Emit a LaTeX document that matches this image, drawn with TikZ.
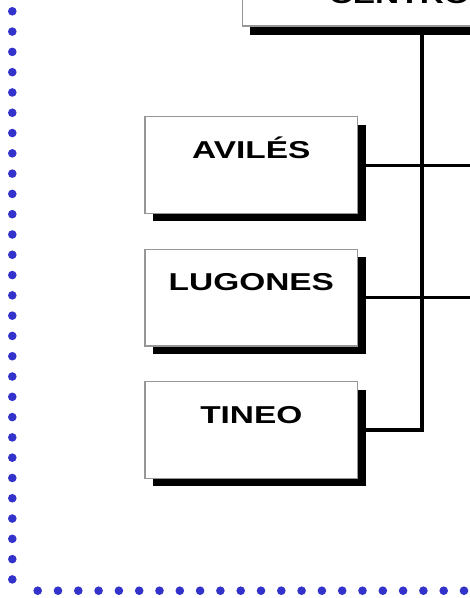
\documentclass[tikz,border=0pt]{standalone}
\usepackage{fontspec}
\usepackage{graphicx}
\setmainfont{Liberation Sans}
\definecolor{dotblue}{RGB}{51,51,204}
\definecolor{boxgray}{RGB}{150,150,150}
\newcommand{\boxlbl}[1]{\fontsize{24.4}{28}\selectfont\bfseries\scalebox{1.37}[1]{#1}}
\tikzset{
  orgbox/.style={draw=boxgray, line width=1.2pt, fill=white, rectangle,
    minimum width=212.7pt, minimum height=96.8pt, inner sep=0pt},
  boxtext/.style={anchor=base, inner sep=0pt},
  shadowfill/.style={fill=black},
  trunk/.style={line width=4pt},
  branch/.style={line width=3pt},
  bdot/.style={fill=dotblue},
}
\begin{document}
\begin{tikzpicture}[x=1pt,y=1pt]
\useasboundingbox (0,0) rectangle (470,598);
\clip (0,0) rectangle (470,598);
% dots
\foreach \i in {0,...,28} { \fill[bdot] (12.3,{586.7-20.29*\i}) circle (4.3); }
\foreach \i in {0,...,21} { \fill[bdot] ({37.7+20.3*\i},7.3) circle (4.3); }
% top box
\fill[shadowfill] (249.7,563.3) rectangle (540,650);
\node[orgbox, minimum width=300pt, minimum height=80pt, anchor=south west] (centro) at (241.7,571.3) {};
\node[anchor=base west, inner sep=0pt] (centroT) at (328.6,594.7) {\boxlbl{CENTRO}};
% boxes
\foreach \nm/\txt/\cy in {aviles/AVILÉS/432.9, lugones/LUGONES/300.4, tineo/TINEO/167.9} {
  \fill[shadowfill] (145+8,\cy-48.4-8) rectangle (357.7+8,\cy+48.4-8);
  \node[orgbox] (\nm) at (251.35,\cy) {};
  \node[boxtext] (\nm T) at ([yshift=-42pt]\nm.north) {\boxlbl{\txt}};
}
% connectors
\coordinate (avR) at (472,0 |- aviles.east);
\coordinate (luR) at (472,0 |- lugones.east);
\draw[trunk] (centro.south -| 422,0) -- (422,0 |- tineo.east) -- (tineo.east);
\draw[branch] (aviles.east) -- (avR);
\draw[branch] (lugones.east) -- (luR);
\end{tikzpicture}
\end{document}
